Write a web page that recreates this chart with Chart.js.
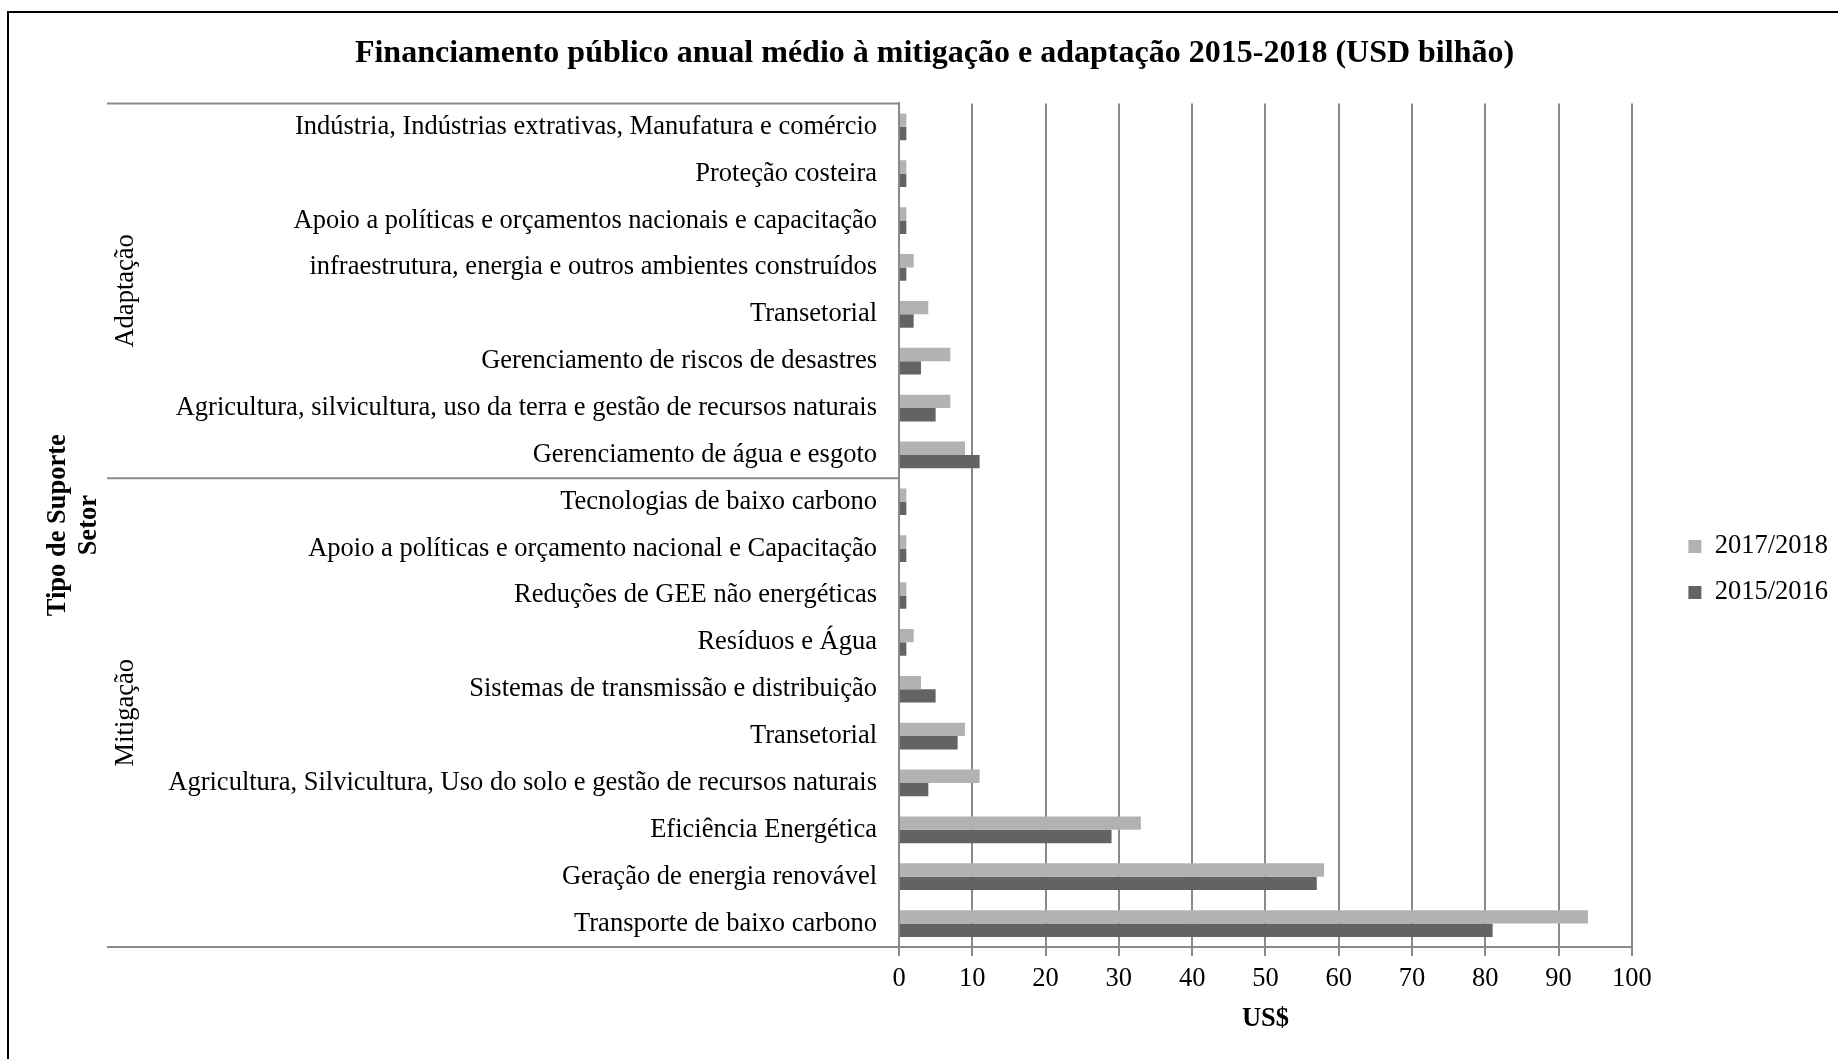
<!DOCTYPE html>
<html>
<head>
<meta charset="utf-8">
<script src="https://cdn.jsdelivr.net/npm/chart.js@4.4.1/dist/chart.umd.min.js"></script>
<style>
  html, body { margin: 0; padding: 0; background: #fff; }
  canvas { display: block; }
</style>
</head>
<body>
<canvas id="financiamento" width="1838" height="1059"></canvas>
<script>
// dados (USD bilhao)
const setores = [
  'Indústria, Indústrias extrativas, Manufatura e comércio',
  'Proteção costeira',
  'Apoio a políticas e orçamentos nacionais e capacitação',
  'infraestrutura, energia e outros ambientes construídos',
  'Transetorial',
  'Gerenciamento de riscos de desastres',
  'Agricultura, silvicultura, uso da terra e gestão de recursos naturais',
  'Gerenciamento de água e esgoto',
  'Tecnologias de baixo carbono',
  'Apoio a políticas e orçamento nacional e Capacitação',
  'Reduções de GEE não energéticas',
  'Resíduos e Água',
  'Sistemas de transmissão e distribuição',
  'Transetorial',
  'Agricultura, Silvicultura, Uso do solo e gestão de recursos naturais',
  'Eficiência Energética',
  'Geração de energia renovável',
  'Transporte de baixo carbono'
];
const grupos = ['Adaptação', 'Mitigação'];
const tamanhoGrupos = [8, 10];
const valores2017 = [1, 1, 1, 2, 4, 7, 7, 9, 1, 1, 1, 2, 3, 9, 11, 33, 58, 94];
const valores2015 = [1, 1, 1, 1, 2, 3, 5, 11, 1, 1, 1, 1, 5, 8, 4, 29, 57, 81];
const eixoX = { min: 0, max: 100, passo: 10 };

const fonte = "'Liberation Serif', 'Times New Roman', serif";
const tam = 26.5;
const cinzaGrade = '#8a8a8a';

Chart.defaults.font.family = fonte;
Chart.defaults.font.size = tam;
Chart.defaults.color = '#000';

// moldura preta (so esquerda e topo aparecem)
const moldura = {
  id: 'moldura',
  beforeDraw(chart) {
    const ctx = chart.ctx;
    ctx.save();
    ctx.fillStyle = '#fff';
    ctx.fillRect(0, 0, chart.width, chart.height);
    ctx.fillStyle = '#000';
    ctx.fillRect(7, 11, 2, chart.height);
    ctx.fillRect(7, 11, chart.width, 2);
    ctx.restore();
  }
};

// ajustes de posicao da legenda e do titulo
const ajustes = {
  id: 'ajustes',
  afterLayout(chart) {
    const lg = chart.legend;
    lg.left += 37; lg.right += 37;
    lg.top += 40; lg.bottom += 40;
    const t = chart.titleBlock;
    t.left += 20; t.right += 20;
  }
};

// rotulos de grupo (Adaptação / Mitigação) e linhas divisorias
const rotulosGrupo = {
  id: 'rotulosGrupo',
  afterDraw(chart) {
    const ctx = chart.ctx;
    const y = chart.scales.y;
    const passo = y.getPixelForValue(1) - y.getPixelForValue(0);
    const xIni = 107;
    const xFim = chart.chartArea.left;
    ctx.save();
    ctx.strokeStyle = cinzaGrade;
    ctx.lineWidth = 2;
    let idx = 0;
    const bordas = [y.getPixelForValue(0) - passo / 2];
    grupos.forEach((g, i) => {
      const a = idx, b = idx + tamanhoGrupos[i] - 1;
      const topo = y.getPixelForValue(a) - passo / 2;
      const base = y.getPixelForValue(b) + passo / 2;
      bordas.push(base);
      ctx.save();
      ctx.translate(126, (topo + base) / 2);
      ctx.rotate(-Math.PI / 2);
      ctx.fillStyle = '#000';
      ctx.font = tam + 'px ' + fonte;
      ctx.textAlign = 'center';
      ctx.textBaseline = 'middle';
      ctx.fillText(g, 0, 0);
      ctx.restore();
      idx = b + 1;
    });
    bordas.forEach(p => {
      ctx.beginPath();
      ctx.moveTo(xIni, p);
      ctx.lineTo(xFim, p);
      ctx.stroke();
    });
    ctx.restore();
  }
};

new Chart(document.getElementById('financiamento'), {
  type: 'bar',
  data: {
    labels: setores,
    datasets: [
      {
        label: '2017/2018',
        data: valores2017,
        backgroundColor: '#b2b2b2',
        categoryPercentage: 0.57,
        barPercentage: 1.0
      },
      {
        label: '2015/2016',
        data: valores2015,
        backgroundColor: '#636363',
        categoryPercentage: 0.57,
        barPercentage: 1.0
      }
    ]
  },
  options: {
    indexAxis: 'y',
    responsive: false,
    animation: false,
    devicePixelRatio: 1,
    layout: { padding: { left: 28, right: 37, top: 0, bottom: 0 } },
    plugins: {
      title: {
        display: true,
        text: 'Financiamento público anual médio à mitigação e adaptação 2015-2018 (USD bilhão)',
        font: { size: 32, weight: 'bold', family: fonte },
        color: '#000',
        padding: { top: 35, bottom: 30 }
      },
      legend: {
        position: 'right',
        labels: {
          boxWidth: 13,
          boxHeight: 13,
          padding: 19.5,
          font: { size: tam, family: fonte },
          color: '#000'
        }
      },
      tooltip: { enabled: false }
    },
    scales: {
      x: {
        min: eixoX.min,
        max: eixoX.max,
        ticks: { stepSize: eixoX.passo, padding: 7, color: '#000' },
        grid: { color: cinzaGrade, lineWidth: 2, tickLength: 9, drawTicks: true },
        border: { color: cinzaGrade, width: 2 },
        title: {
          display: true,
          text: 'US$',
          font: { size: tam, weight: 'bold', family: fonte },
          color: '#000',
          padding: { top: 0, bottom: 24 }
        },
        afterFit(scale) { scale.height = 112; }
      },
      y: {
        ticks: { padding: 22, color: '#000', autoSkip: false },
        grid: { display: false, drawTicks: false },
        border: { display: true, color: cinzaGrade, width: 2 },
        title: {
          display: true,
          text: ['Tipo de Suporte', 'Setor'],
          font: { size: tam, weight: 'bold', family: fonte, lineHeight: 1.15 },
          color: '#000',
          padding: { top: 15, bottom: 0 }
        },
        afterFit(scale) { scale.width = 899 - 28; }
      }
    }
  },
  plugins: [moldura, ajustes, rotulosGrupo]
});
</script>
</body>
</html>
